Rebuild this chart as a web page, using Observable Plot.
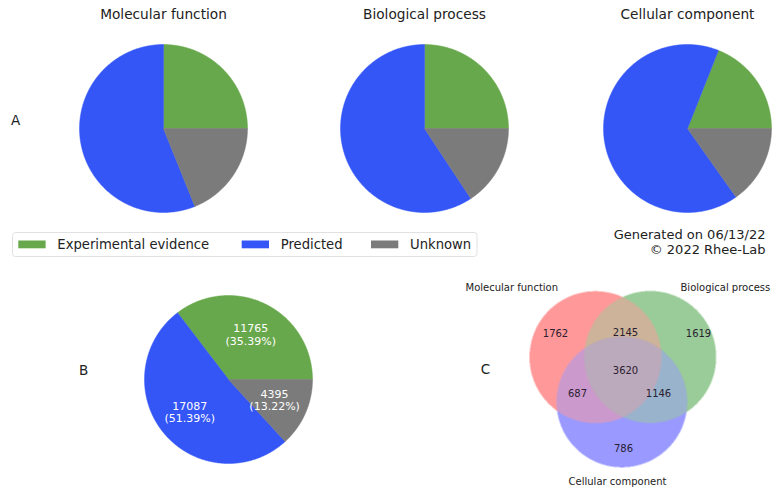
<!DOCTYPE html>
<html><head><meta charset="utf-8">
<script src="https://cdn.jsdelivr.net/npm/d3@7"></script>
<script src="https://cdn.jsdelivr.net/npm/@observablehq/plot@0.6"></script>
<style>body{margin:0;background:#fff}#chart{width:772px;height:488px}</style>
</head><body><div id="chart"></div>
<script>
// ---- data ----
const categories = ["Experimental evidence", "Predicted", "Unknown"];
const aspects = ["Molecular function", "Biological process", "Cellular component"];
const pctMF = [25.0, 56.1, 18.9];
const pctBP = [25.0, 59.3, 15.7];
const pctCC = [19.0, 65.8, 15.2];
const totalCounts = [11765, 17087, 4395];
const totalPct = [35.39, 51.39, 13.22];
const vennRegions = ["100", "010", "110", "001", "101", "011", "111"];
const vennCounts = [1762, 1619, 2145, 786, 687, 1146, 3620];
const footer = ["Generated on 06/13/22", "© 2022 Rhee-Lab"];
const panelLetters = ["A", "B", "C"];

// ---- styles / layout ----
const palette = {"Experimental evidence": "#68a84c", "Predicted": "#3456f7", "Unknown": "#7b7b7b"};
const setColors = [[1, 0, 0], [0, 0.5, 0], [0, 0, 1]];
const pieR = 84;
const pieCentersA = [[163, 128], [424, 128], [687, 128]];
const pieCenterB = [228, 379];
const vennCircles = [{cx: 595, cy: 356.7, r: 66}, {cx: 649.7, cy: 356.5, r: 66}, {cx: 621.4, cy: 401.4, r: 65.4}];
const vennLabelPos = {"100": [555, 333], "010": [698, 333], "110": [625, 332], "001": [623, 448], "101": [577, 393], "011": [658, 393], "111": [625, 370]};
const vennSetLabelPos = [[465, 287, "start"], [680, 287, "start"], [617, 481, "middle"]];
const legendPatchX = [18.3, 241.7, 371];

function wedgePoints(values, cx, cy, r, group) {
  const total = d3.sum(values);
  let acc = 0;
  const pts = [];
  values.forEach((v, i) => {
    const a0 = 2 * Math.PI * acc / total; acc += v;
    const a1 = 2 * Math.PI * acc / total;
    const id = group + "-" + i, cat = categories[i];
    const n = Math.max(2, Math.ceil((a1 - a0) / (Math.PI / 360)));
    pts.push({id, cat, x: cx, y: cy});
    for (let k = 0; k <= n; k++) {
      const t = a0 + (a1 - a0) * k / n;
      pts.push({id, cat, x: cx + r * Math.cos(t), y: cy - r * Math.sin(t)});
    }
    pts.push({id, cat, x: cx, y: cy});
  });
  return pts;
}

const wedges = [
  ...wedgePoints(pctMF, ...pieCentersA[0], pieR, "mf"),
  ...wedgePoints(pctBP, ...pieCentersA[1], pieR, "bp"),
  ...wedgePoints(pctCC, ...pieCentersA[2], pieR, "cc"),
  ...wedgePoints(totalCounts, ...pieCenterB, pieR, "all")
];

// pie B labels at 0.6 r along mid angle
const sumB = d3.sum(totalCounts);
let accB = 0;
const pieBLabels = totalCounts.map((v, i) => {
  const mid = 2 * Math.PI * (accB + v / 2) / sumB; accB += v;
  return {x: pieCenterB[0] + 0.6 * pieR * Math.cos(mid), y: pieCenterB[1] - 0.6 * pieR * Math.sin(mid),
          text: `${v}\n(${totalPct[i].toFixed(2)}%)`};
});

// venn region colours (mean of set colours, alpha 0.4 over white)
const regionColor = {};
vennRegions.forEach(key => {
  const members = setColors.filter((c, i) => key[i] === "1");
  const mean = [0, 1, 2].map(j => d3.mean(members, c => c[j]));
  regionColor[key] = d3.rgb(...mean.map(m => Math.round(255 * (0.6 + 0.4 * m)))).formatHex();
});
function vennKey(x, y) {
  return vennCircles.map(c => ((x - c.cx) ** 2 + (y - c.cy) ** 2 <= c.r * c.r) ? "1" : "0").join("");
}

const vennLabels = vennRegions.map((k, i) => ({x: vennLabelPos[k][0], y: vennLabelPos[k][1], text: String(vennCounts[i])}));
const vennSetLabels = aspects.map((a, i) => ({x: vennSetLabelPos[i][0], y: vennSetLabelPos[i][1], anchor: vennSetLabelPos[i][2], text: a}));
const titles = aspects.map((a, i) => ({x: pieCentersA[i][0], y: 14, text: a}));
const letters = [{x: 15, y: 120}, {x: 83, y: 370}, {x: 485, y: 369}].map((p, i) => ({...p, text: panelLetters[i]}));
const legendItems = categories.map((c, i) => ({cat: c, x1: legendPatchX[i], x2: legendPatchX[i] + 27.3, y1: 240.5, y2: 248.3, tx: legendPatchX[i] + 38.5, ty: 244.6}));

const chart = Plot.plot({
  width: 772, height: 488, margin: 0,
  x: {domain: [0, 772], range: [0, 772], axis: null},
  y: {domain: [0, 488], range: [0, 488], axis: null},
  style: {fontFamily: "DejaVu Sans", background: "white", color: "#222"},
  marks: [
    Plot.line(wedges, {x: "x", y: "y", z: "id", fill: d => palette[d.cat], stroke: d => palette[d.cat], strokeWidth: 0.5, curve: "linear"}),
    Plot.text(pieBLabels, {x: "x", y: "y", text: "text", fill: "white", fontSize: 11, lineHeight: 1.18, textAnchor: "middle"}),
    Plot.raster({fill: (x, y) => regionColor[vennKey(x, y)] ?? null, x1: 520, x2: 724, y1: 284, y2: 474, pixelSize: 0.5}),
    Plot.text(vennLabels, {x: "x", y: "y", text: "text", fontSize: 10, fill: "#2a2030"}),
    Plot.text(vennSetLabels.filter(d => d.anchor === "start"), {x: "x", y: "y", text: "text", textAnchor: "start", fontSize: 10, fill: "#222"}),
    Plot.text(vennSetLabels.filter(d => d.anchor === "middle"), {x: "x", y: "y", text: "text", textAnchor: "middle", fontSize: 10, fill: "#222"}),
    Plot.text(titles, {x: "x", y: "y", text: "text", fontSize: 13.7, fill: "#222"}),
    Plot.text(letters, {x: "x", y: "y", text: "text", fontSize: 13.5, fill: "#222"}),
    Plot.rect([0], {x1: 12.5, x2: 477, y1: 232.5, y2: 256.5, fill: "white", stroke: "#d9d9d9", strokeWidth: 0.8, rx: 3}),
    Plot.rect(legendItems, {x1: "x1", x2: "x2", y1: "y1", y2: "y2", fill: d => palette[d.cat]}),
    Plot.text(legendItems, {x: "tx", y: "ty", text: "cat", textAnchor: "start", fontSize: 13.2, fill: "#222"}),
    Plot.text([footer.join("\n")], {x: 765, y: 241, text: d => d, textAnchor: "end", fontSize: 13, lineHeight: 1.15, fill: "#222"})
  ]
});
document.getElementById("chart").append(chart);
</script>
</body></html>
